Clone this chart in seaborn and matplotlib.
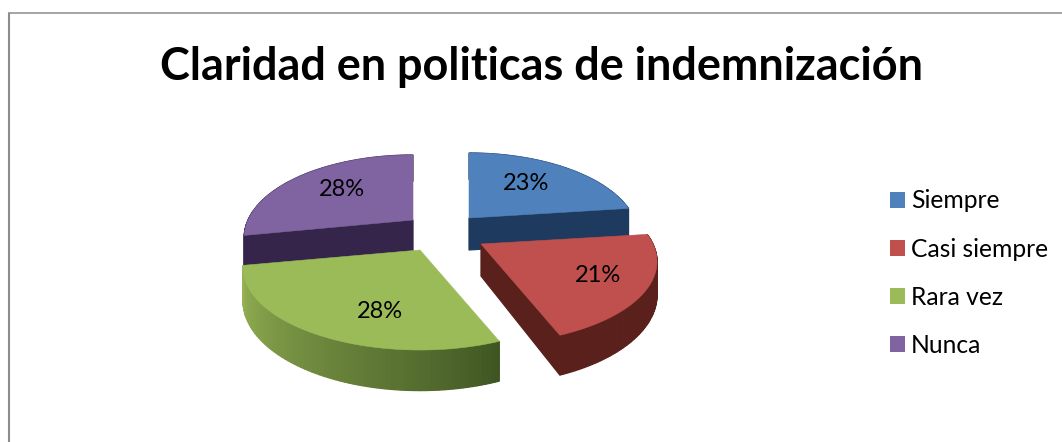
import numpy as np
import matplotlib
matplotlib.use("Agg")
import matplotlib.pyplot as plt
from matplotlib.patches import Polygon, Patch
import seaborn as sns

# Survey results
title = "Claridad en politicas de indemnización"
categories = ["Siempre", "Casi siempre", "Rara vez", "Nunca"]
percentages = [23, 21, 28, 28]

# Colours for the top faces and the darker extruded sides
top_colors = ["#4F81BD", "#C0504D", "#9BBB59", "#8064A2"]
side_colors = ["#1F3A5F", "#5A201C", "#6E8A3E", "#35254A"]

# Exploded slice apexes, radii and label anchors, in figure pixels
apexes = [(469, 218), (481, 244), (420, 250), (413, 220)]
radii_x = [165, 172, 173, 165]
label_positions = [(526, 183), (598, 276), (380, 311), (342, 189)]

RY = 78.8      # pie radius along the viewing direction
DEPTH = 32.0   # extrusion height at the pie centre
PERSP = 0.212  # perspective strength towards the viewer

sns.set_theme(style="white")
plt.rcParams["font.family"] = ["Lato", "DejaVu Sans"]

fig = plt.figure(figsize=(10.62, 4.42), dpi=100, facecolor="white")
ax = fig.add_axes([0, 0, 1, 1])
ax.set_xlim(0, 1062)
ax.set_ylim(442, 0)
ax.axis("off")


def project(theta, radius, i, h=0.0):
    """Clockwise angle from 12 o'clock onto the screen, h=1 being the slice base."""
    u = radius * np.sin(theta)
    v = -radius * np.cos(theta)
    w = 1 - PERSP * v
    ax_, ay_ = apexes[i]
    return np.column_stack((ax_ + radii_x[i] * u / w, ay_ + (RY * v + DEPTH * h) / w))


def quad(theta0, theta1, r0, r1, i, color, z):
    a = project(np.array([theta0]), r0, i)
    b = project(np.array([theta1]), r1, i)
    c = project(np.array([theta1]), r1, i, 1)
    d = project(np.array([theta0]), r0, i, 1)
    ax.add_patch(Polygon(np.vstack((a, b, c, d)), closed=True, fc=color, ec=color, lw=0.9, zorder=z))


def blend(c0, c1, t):
    c0, c1 = np.array(matplotlib.colors.to_rgb(c0)), np.array(matplotlib.colors.to_rgb(c1))
    return tuple(c0 + (c1 - c0) * t)


edges = np.deg2rad(np.cumsum([0] + percentages) * 3.6)
palette = sns.color_palette(top_colors)

# Back slices first so the nearer ones overlap them
draw_order = {3: 2, 0: 3, 2: 4, 1: 5}
# Which radial wall of each slice faces the viewer
facing_edge = {0: 1, 1: 1, 3: 0}

for i, z in draw_order.items():
    t0, t1 = edges[i], edges[i + 1]

    if i in facing_edge:
        edge = edges[i + facing_edge[i]]
        quad(edge, edge, 0, 1, i, side_colors[i], z)

    # Curved outer wall, shaded along the arc on the green slice
    arc = np.linspace(t0, t1, 80)
    for k in range(len(arc) - 1):
        s = k / (len(arc) - 2)
        shade = blend("#3F5522", "#96B455", s ** 0.9) if i == 2 else side_colors[i]
        quad(arc[k], arc[k + 1], 1, 1, i, shade, z)

    # Top face
    theta = np.linspace(t0, t1, 120)
    rim = project(theta, 1, i)
    ax.add_patch(Polygon(np.vstack(([apexes[i]], rim)), closed=True,
                         fc=palette[i], ec=palette[i], lw=0.4, zorder=z + 0.5))

for pct, (x, y) in zip(percentages, label_positions):
    ax.text(x, y, f"{pct}%", ha="center", va="center", fontsize=17, color="black", zorder=10)

ax.text(541, 66.5, title, ha="center", va="center", fontsize=32.4, fontweight="bold", color="black")

# Chart frame: only the top and left edges fall inside the canvas
ax.plot([8.5, 8.5], [442, 12.5], color="#8C8C8C", lw=1.5, zorder=1, solid_capstyle="butt")
ax.plot([8, 1062], [12.5, 12.5], color="#8C8C8C", lw=1.1, zorder=1, solid_capstyle="butt")

handles = [Patch(fc=c, ec="none") for c in top_colors]
ax.legend(handles, categories, loc="upper left", bbox_to_anchor=(890 / 1062, 1 - 189.5 / 442),
          frameon=False, fontsize=17.7, handlelength=0.61, handleheight=0.61, handletextpad=0.25,
          labelspacing=1.02, borderpad=0, borderaxespad=0, labelcolor="black")

fig.savefig("out.png", dpi=100, facecolor="white")
